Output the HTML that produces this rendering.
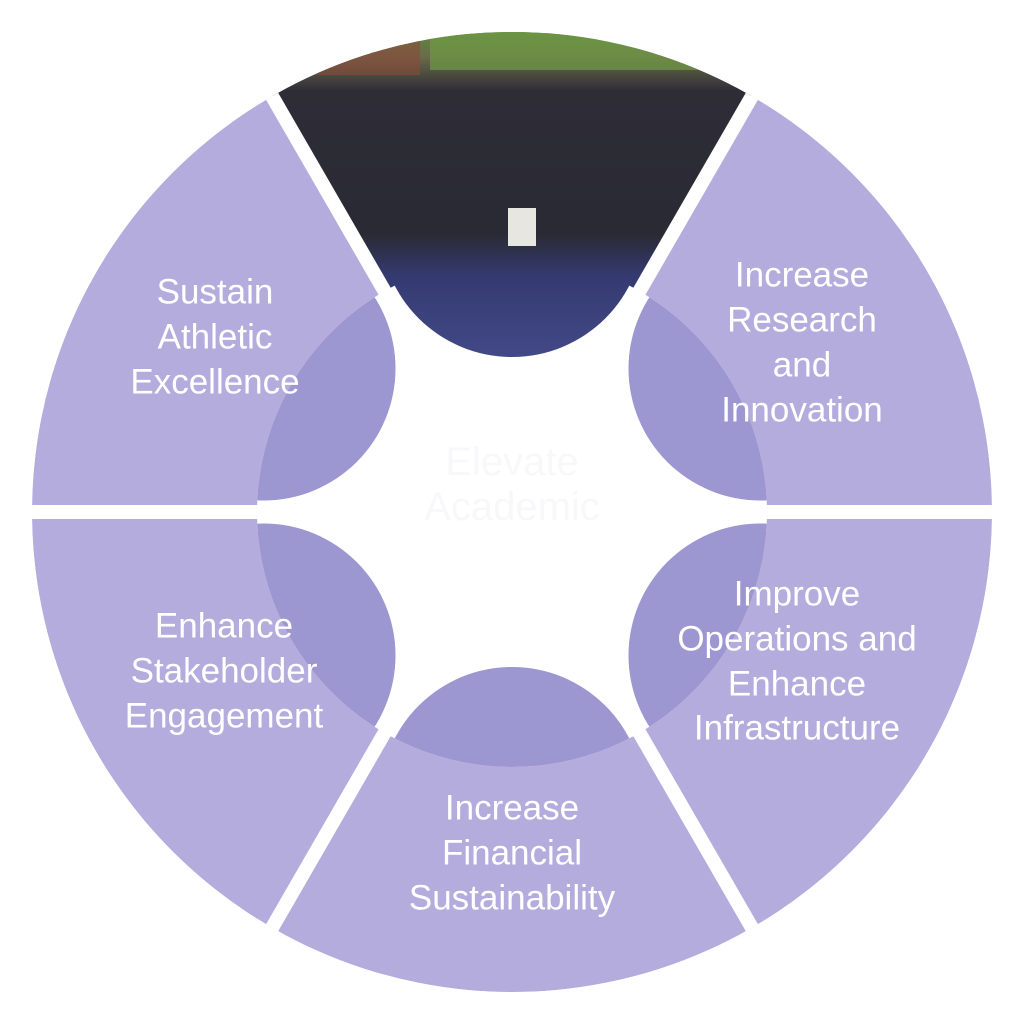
<!DOCTYPE html>
<html><head><style>html,body{margin:0;padding:0;background:#fff}svg{display:block}</style></head>
<body>
<svg width="1024" height="1024" viewBox="0 0 1024 1024" xmlns="http://www.w3.org/2000/svg">
<defs>
<clipPath id="outer"><circle cx="512" cy="512" r="480"/></clipPath>
<clipPath id="inner"><circle cx="512" cy="512" r="255"/></clipPath>
<clipPath id="topw"><path d="M512 512 L789 32 L235 32 Z"/></clipPath>
<mask id="m"><rect width="1024" height="1024" fill="#fff"/><circle cx="512" cy="225" r="132" fill="#000"/></mask>
<linearGradient id="ph" x1="0" y1="0" x2="0" y2="1">
<stop offset="0" stop-color="#5f8a3e"/><stop offset="0.08" stop-color="#6a6a4a"/><stop offset="0.18" stop-color="#2e2d36"/>
<stop offset="0.6" stop-color="#2a2a34"/><stop offset="0.72" stop-color="#343a70"/><stop offset="1" stop-color="#454b8a"/></linearGradient>
</defs>
<g clip-path="url(#outer)">
<circle cx="512" cy="512" r="480" fill="#b3acdd"/>
<g clip-path="url(#topw)"><rect x="200" y="30" width="624" height="340" fill="url(#ph)"/>
<rect x="270" y="30" width="150" height="45" fill="#8a4a3a" opacity="0.6"/>
<rect x="430" y="30" width="320" height="40" fill="#6f9a45" opacity="0.7"/>
<rect x="508" y="208" width="28" height="38" fill="#e8e6e0"/>
</g>
<circle cx="512" cy="512" r="255" fill="#fff" mask="url(#m)"/>
<g clip-path="url(#inner)" fill="#9d97d1">
<circle cx="760.5" cy="368.5" r="132"/>
<circle cx="263.5" cy="368.5" r="132"/>
<circle cx="263.5" cy="655.5" r="132"/>
<circle cx="512" cy="799" r="132"/>
<circle cx="760.5" cy="655.5" r="132"/>
</g>
<g stroke="#fff" stroke-width="14">
<line x1="0" y1="512" x2="1024" y2="512"/>
<line x1="512" y1="512" x2="789" y2="32"/>
<line x1="512" y1="512" x2="235" y2="32"/>
<line x1="512" y1="512" x2="789" y2="992"/>
<line x1="512" y1="512" x2="235" y2="992"/>
</g>
</g>
<g font-family="Liberation Sans, sans-serif" font-size="35" fill="#fff" text-anchor="middle" dominant-baseline="central">
<text x="215" y="292">Sustain</text><text x="215" y="337">Athletic</text><text x="215" y="382">Excellence</text>
<text x="802" y="275">Increase</text><text x="802" y="320">Research</text><text x="802" y="365">and</text><text x="802" y="410">Innovation</text>
<text x="797" y="594">Improve</text><text x="797" y="639">Operations and</text><text x="797" y="684">Enhance</text><text x="797" y="728">Infrastructure</text>
<text x="512" y="808">Increase</text><text x="512" y="853">Financial</text><text x="512" y="898">Sustainability</text>
<text x="224" y="626">Enhance</text><text x="224" y="671">Stakeholder</text><text x="224" y="716">Engagement</text>
</g>
<g font-family="Liberation Sans, sans-serif" font-size="40" fill="#f8f8fa" text-anchor="middle" dominant-baseline="central">
<text x="512" y="462">Elevate</text><text x="512" y="507">Academic</text>
</g>
</svg>
</body></html>
